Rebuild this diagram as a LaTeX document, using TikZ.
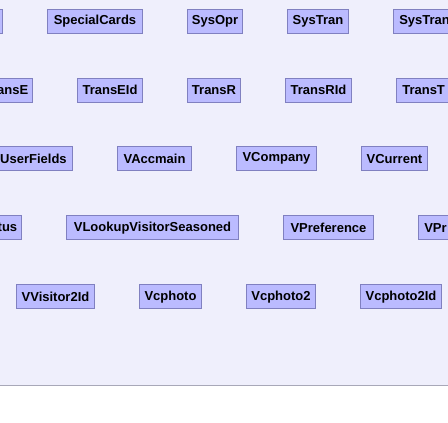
\documentclass[tikz,border=0pt]{standalone}
\usepackage{fontspec}
\setmainfont{Liberation Sans}
\definecolor{canvas}{RGB}{239,239,252}
\definecolor{cellfill}{RGB}{187,187,255}
\definecolor{cellline}{RGB}{128,128,192}
\definecolor{rulegray}{RGB}{168,168,184}
\tikzset{
  cell/.style={draw=cellline, fill=cellfill, line width=1pt, inner sep=0pt,
    minimum height=24pt, font=\fontsize{13}{15}\selectfont\bfseries, text=black},
}
% \tablecell{name}{left}{right}{top}{alignment}{text}
\newcommand{\tablecell}[6]{%
  \pgfmathsetmacro{\cw}{#3-#2}%
  \node[cell, minimum width=\cw pt] (#1) at ({(#2+#3)/2},{#4+12})
    {\makebox[\cw pt][#5]{\hspace{6pt}#6\hspace{6pt}}};%
}
% cells whose left part runs off the page: text hugs the right border
\newcommand{\edgecell}[5]{%
  \pgfmathsetmacro{\cw}{#3-#2}%
  \node[cell, minimum width=\cw pt] (#1) at ({(#2+#3)/2},{#4+12})
    {\makebox[\cw pt][r]{#5\hspace{4.5pt}}};%
}
\begin{document}
\begin{tikzpicture}[x=1pt,y=-1pt]
  \useasboundingbox (0,0) rectangle (448,423);
  \begin{scope}
    \clip (0,0) rectangle (448,423);
    \fill[white] (0,0) rectangle (448,423);
    \fill[canvas] (0,0) rectangle (448,385);
    \draw[rulegray, line width=1pt] (0,385) -- (448,385);

    % first row
    \tablecell{c11}{-60}{2.5}{9.3}{r}{}
    \tablecell{c12}{47.3}{142.7}{9.3}{c}{SpecialCards}
    \tablecell{c13}{187.3}{242.7}{9.3}{c}{SysOpr}
    \tablecell{c14}{287.3}{348.7}{9.3}{c}{SysTran}
    \tablecell{c15}{393.3}{480}{9.3}{l}{SysTran}

    % second row
    \edgecell{c21}{-40}{32.7}{78.3}{TransE}
    \tablecell{c22}{77.3}{142.7}{78.3}{c}{TransEId}
    \tablecell{c23}{187.3}{240.7}{78.3}{c}{TransR}
    \tablecell{c24}{285.3}{351.7}{78.3}{c}{TransRId}
    \tablecell{c25}{396.3}{480}{78.3}{l}{TransT}

    % third row
    \tablecell{c31}{-4}{72.7}{146.7}{r}{UserFields}
    \tablecell{c32}{117.3}{191.7}{146.7}{c}{VAccmain}
    \tablecell{c33}{236.3}{316.7}{146.7}{c}{VCompany}
    \tablecell{c34}{361.3}{427.7}{146.7}{c}{VCurrent}

    % fourth row
    \edgecell{c41}{-40}{21.7}{215.7}{tus}
    \tablecell{c42}{66.3}{238.7}{215.7}{c}{VLookupVisitorSeasoned}
    \tablecell{c43}{283.3}{373.7}{215.7}{c}{VPreference}
    \tablecell{c44}{418.3}{480}{215.7}{l}{VPr}

    % fifth row
    \tablecell{c51}{16.3}{94.7}{284.7}{c}{VVisitor2Id}
    \tablecell{c52}{139.3}{201.7}{284.7}{c}{Vcphoto}
    \tablecell{c53}{246.3}{315.7}{284.7}{c}{Vcphoto2}
    \tablecell{c54}{360.3}{441.7}{284.7}{c}{Vcphoto2Id}
  \end{scope}
\end{tikzpicture}
\end{document}
